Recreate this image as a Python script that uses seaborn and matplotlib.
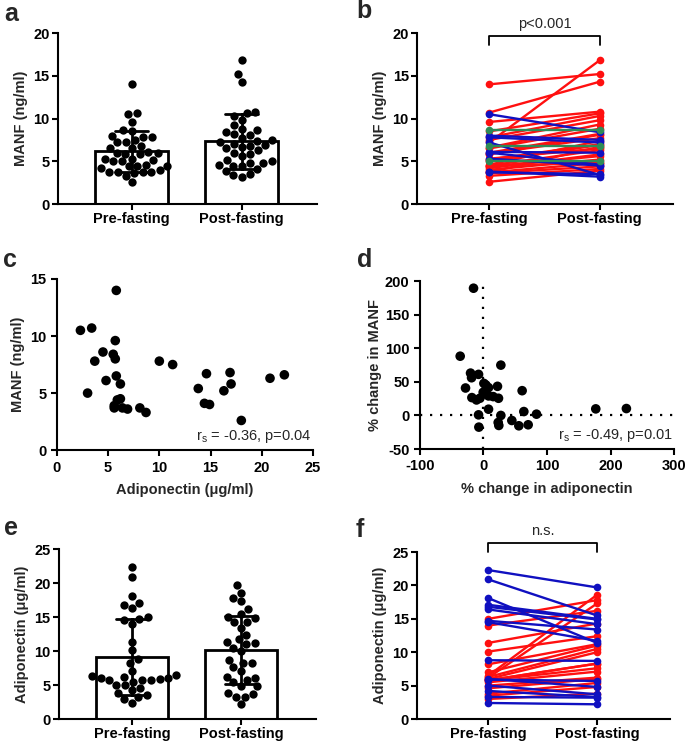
import numpy as np
import pandas as pd
import matplotlib
matplotlib.use('Agg')
import matplotlib.pyplot as plt
import seaborn as sns

groups = ['Pre-fasting', 'Post-fasting']

# MANF (ng/ml), paired by subject
manf_pre = [14.0, 10.7, 10.5, 7.2, 9.6, 8.6, 8.5, 8.0, 7.8, 7.8, 7.5, 7.2, 6.8,
            6.6, 6.5, 6.1, 6.0, 5.9, 5.8, 5.3, 5.2, 5.0, 5.0, 4.6, 4.5, 4.4,
            4.2, 4.5, 4.0, 3.8, 3.7, 3.7, 3.6, 3.7, 3.3, 2.6, 6.0, 5.3]
manf_post = [15.2, 14.3, 8.4, 16.8, 10.8, 8.6, 10.6, 7.5, 10.3, 7.2, 9.8, 3.4, 6.8,
             9.3, 8.8, 6.0, 8.2, 7.7, 8.1, 6.5, 7.0, 5.0, 6.9, 7.4, 6.3, 5.6,
             5.8, 4.8, 5.2, 3.2, 4.8, 3.5, 4.4, 6.7, 4.1, 3.9, 4.6, 4.5]

# Adiponectin (ug/ml), paired by subject
adipo_pre = [22.3, 20.9, 18.1, 17.1, 16.8, 16.4, 14.7, 14.5, 8.8, 6.0, 5.9, 5.0,
             4.2, 2.4, 3.3, 15.0, 14.0, 11.4, 10.1, 8.2, 7.0, 6.5, 6.2, 6.3,
             6.0, 5.8, 5.8, 5.8, 5.5, 5.0, 4.6, 3.8, 3.5, 3.0]
adipo_post = [19.7, 15.5, 11.4, 15.0, 14.9, 14.2, 13.4, 11.7, 8.7, 4.8, 5.7, 3.7,
              3.3, 2.2, 3.2, 17.8, 16.2, 14.3, 12.4, 11.2, 11.0, 18.6, 17.3, 10.5,
              10.0, 8.3, 8.3, 7.6, 7.1, 6.2, 6.0, 5.4, 4.8, 3.8]

# panel c: adiponectin vs MANF
corr_adipo = [2.3, 3.4, 3.0, 3.7, 4.5, 4.8, 5.5, 5.7, 5.7, 5.8, 5.8, 6.2, 5.9,
              5.6, 5.6, 6.2, 6.4, 6.9, 8.1, 8.7, 10.0, 11.3, 13.8, 14.6, 14.4,
              14.9, 16.3, 16.9, 17.0, 18.0, 20.8, 22.2]
corr_manf = [10.5, 10.7, 5.0, 7.8, 8.6, 6.1, 8.4, 8.0, 9.6, 14.0, 6.5, 5.8, 4.4,
             3.9, 3.7, 4.5, 3.7, 3.6, 3.7, 3.3, 7.8, 7.5, 5.4, 6.7, 4.1,
             4.0, 5.2, 6.8, 5.8, 2.6, 6.3, 6.6]

# panel d: % change
pct_adipo = [-15.6, -36.6, -20.3, -18.7, -7.7, -28.2, -18.2, -10.9, -5.6, 0.7, 3.8,
             8.0, -0.4, 3.8, 8.0, 15.3, 22.1, 23.7, 27.4, 8.0, -7.7, 27.4, 60.9,
             63.6, 83.5, 44.7, 23.2, 24.2, 55.7, 70.4, -7.2, 176.8, 225.0]
pct_manf = [189.6, 88.3, 63.1, 56.2, 61.2, 40.9, 26.6, 23.1, 25.6, 47.8, 45.4,
            41.4, 34.5, 32.0, 29.1, 28.1, 43.4, 25.6, 75.0, 9.3, 0.9, 0.0, 36.9,
            5.8, 1.9, -7.5, -10.5, -14.9, -15.4, -13.9, -17.4, 9.8, 10.3]

sns.set_style('ticks')
plt.rcParams['font.family'] = ['Liberation Sans', 'DejaVu Sans']
plt.rcParams['font.weight'] = 'bold'
plt.rcParams['axes.labelweight'] = 'bold'
plt.rcParams['axes.unicode_minus'] = False
plt.rcParams['axes.linewidth'] = 1.5
plt.rcParams['xtick.major.width'] = 1.5
plt.rcParams['ytick.major.width'] = 1.5
plt.rcParams['xtick.major.size'] = 4
plt.rcParams['ytick.major.size'] = 4
plt.rcParams['xtick.labelsize'] = 10.5
plt.rcParams['ytick.labelsize'] = 10.5
plt.rcParams['axes.labelsize'] = 10.5
plt.rcParams['xtick.color'] = 'black'
plt.rcParams['ytick.color'] = 'black'
plt.rcParams['axes.edgecolor'] = 'black'

palette = {'up': '#ff1010', 'down': '#1010c0', 'same': '#2e8b57'}


def style(ax, ymax, step):
    sns.despine(ax=ax)
    ax.set_ylim(0, ymax)
    ax.set_yticks(np.arange(0, ymax + 0.1, step))
    ax.tick_params(axis='both', colors='black', pad=2)


def bar_dots(ax, pre, post, ylabel, ymax, step):
    df = pd.DataFrame({'time': [groups[0]] * len(pre) + [groups[1]] * len(post),
                       'value': pre + post})
    sns.barplot(data=df, x='time', y='value', order=groups, errorbar='sd',
                capsize=0.3, width=0.66, color='white', edgecolor='black',
                linewidth=2, err_kws={'color': 'black', 'linewidth': 2}, ax=ax)
    sns.swarmplot(data=df, x='time', y='value', order=groups, color='black',
                  size=6, ax=ax)
    ax.set_xlim(-0.67, 1.685)
    style(ax, ymax, step)
    ax.set_xlabel('')
    ax.set_ylabel(ylabel, labelpad=4)


def paired(ax, pre, post, ylabel, ymax, step):
    n = len(pre)
    change = ['up' if b - a > 0.05 else 'down' if b - a < -0.05 else 'same'
              for a, b in zip(pre, post)]
    df = pd.DataFrame({'subject': list(range(n)) * 2,
                       'time': [groups[0]] * n + [groups[1]] * n,
                       'value': pre + post,
                       'change': change * 2})
    order = [c for c in ['up', 'down', 'same'] if c in change]
    sns.lineplot(data=df, x='time', y='value', units='subject', estimator=None,
                 hue='change', hue_order=order, palette=palette, marker='o',
                 markersize=5.5, markeredgewidth=0, linewidth=1.7, legend=False,
                 sort=False, ax=ax)
    ax.set_xlim(-0.655, 1.67)
    style(ax, ymax, step)
    ax.set_xlabel('')
    ax.set_ylabel(ylabel, labelpad=4)


fig = plt.figure(figsize=(6.85, 7.44), dpi=100)

ax_a = fig.add_axes([0.0847, 0.7258, 0.378, 0.2298])
ax_b = fig.add_axes([0.609, 0.7258, 0.374, 0.2298])
ax_c = fig.add_axes([0.083, 0.395, 0.374, 0.230])
ax_d = fig.add_axes([0.613, 0.3965, 0.371, 0.2255])
ax_e = fig.add_axes([0.086, 0.0336, 0.375, 0.2284])
ax_f = fig.add_axes([0.609, 0.0336, 0.369, 0.2244])

# a
bar_dots(ax_a, manf_pre, manf_post, 'MANF (ng/ml)', 20, 5)

# b
paired(ax_b, manf_pre, manf_post, 'MANF (ng/ml)', 20, 5)
ax_b.plot([0, 0, 1, 1], [18.6, 19.6, 19.6, 18.6], color='black', lw=1.3, clip_on=False)
ax_b.text(0.5, 20.6, 'p<0.001', ha='center', va='baseline', fontsize=10.5,
          fontweight='normal')

# c
sns.scatterplot(x=corr_adipo, y=corr_manf, color='black', s=48, edgecolor='none',
                ax=ax_c)
sns.despine(ax=ax_c)
ax_c.set_xlim(0, 25)
ax_c.set_ylim(0, 15)
ax_c.set_xticks(np.arange(0, 26, 5))
ax_c.set_yticks(np.arange(0, 16, 5))
ax_c.set_xlabel('Adiponectin (\u03bcg/ml)', labelpad=6)
ax_c.set_ylabel('MANF (ng/ml)', labelpad=4)
ax_c.text(0.995, 0.03, r'r$_\mathregular{s}$ = -0.36, p=0.04', transform=ax_c.transAxes,
          ha='right', va='bottom', fontsize=10.5, fontweight='normal')

# d
ax_d.axhline(0, color='black', lw=1.6, ls=(0, (1, 3.5)), zorder=0)
ax_d.axvline(0, color='black', lw=1.6, ls=(0, (1, 3.5)), zorder=0)
sns.scatterplot(x=pct_adipo, y=pct_manf, color='black', s=48, edgecolor='none',
                ax=ax_d)
sns.despine(ax=ax_d)
ax_d.set_xlim(-100, 300)
ax_d.set_ylim(-50, 200)
ax_d.set_xticks(np.arange(-100, 301, 100))
ax_d.set_yticks(np.arange(-50, 201, 50))
ax_d.set_xlabel('% change in adiponectin', labelpad=6)
ax_d.set_ylabel('% change in MANF', labelpad=2)
ax_d.text(0.995, 0.03, r'r$_\mathregular{s}$ = -0.49, p=0.01', transform=ax_d.transAxes,
          ha='right', va='bottom', fontsize=10.5, fontweight='normal')

# e
bar_dots(ax_e, adipo_pre, adipo_post, 'Adiponectin (\u03bcg/ml)', 25, 5)

# f
paired(ax_f, adipo_pre, adipo_post, 'Adiponectin (\u03bcg/ml)', 25, 5)
ax_f.plot([0, 0, 1, 1], [25.0, 26.4, 26.4, 25.0], color='black', lw=1.3, clip_on=False)
ax_f.text(0.5, 27.5, 'n.s.', ha='center', va='baseline', fontsize=10.5,
          fontweight='normal')

for ax in [ax_a, ax_b, ax_c, ax_d, ax_e, ax_f]:
    ax.tick_params(colors='black')
    for s in ['left', 'bottom']:
        ax.spines[s].set_linewidth(1.5)

letters = [('a', 4, 21), ('b', 356, 18), ('c', 3, 267), ('d', 357, 267),
           ('e', 4, 535), ('f', 356, 537)]
for lab, px, py in letters:
    fig.text(px / 685, 1 - py / 744, lab, fontsize=18, fontweight='bold',
             ha='left', va='baseline')

fig.savefig('out.png', dpi=100)
